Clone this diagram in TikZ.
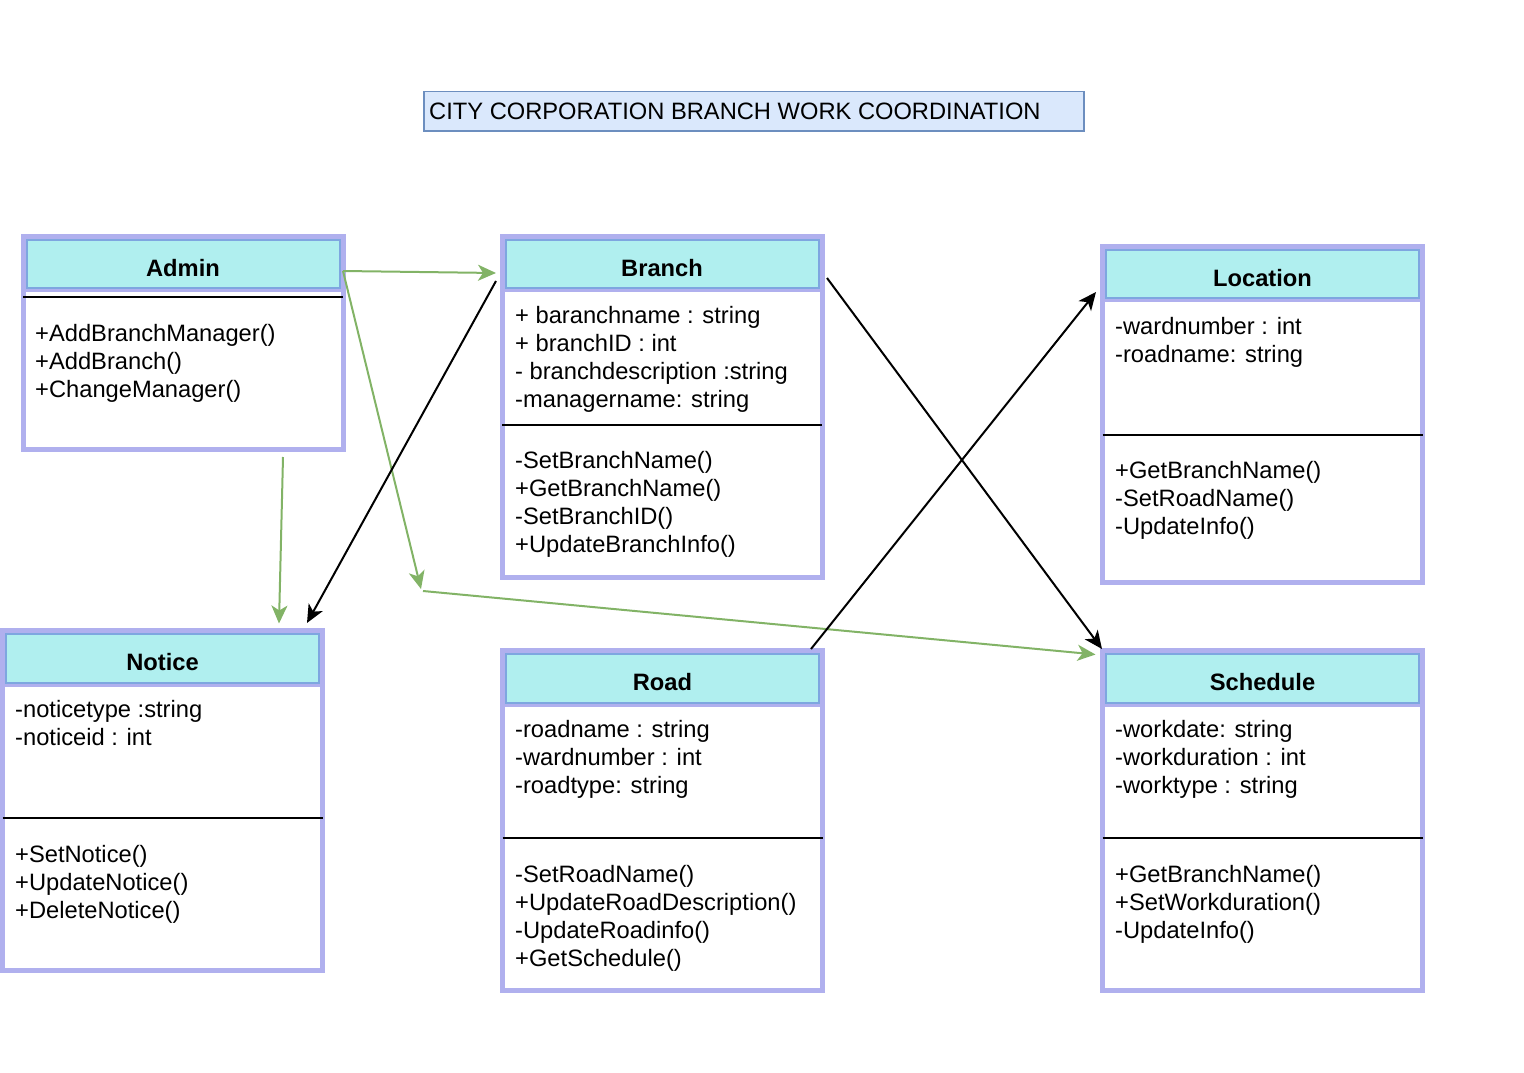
\documentclass[tikz,border=0pt]{standalone}
\usepackage{fontspec}
\setmainfont{Liberation Sans}
\usetikzlibrary{arrows.meta,calc}
\definecolor{lav}{HTML}{B0B0EE}
\definecolor{hdrfill}{HTML}{B0EFEF}
\definecolor{hdrline}{HTML}{7EA6E0}
\definecolor{grn}{HTML}{82B366}
\definecolor{tfill}{HTML}{DAE8FC}
\definecolor{tline}{HTML}{6C8EBF}
\begin{document}
\begin{tikzpicture}[x=1pt,y=-1pt,
 outerbox/.style={draw=lav, line width=5pt, fill=white, rectangle, inner sep=0pt, outer sep=0pt, minimum width=320pt, anchor=north west},
 hdrbox/.style={draw=hdrline, line width=2pt, fill=hdrfill, rectangle, inner sep=0pt, outer sep=0pt, minimum width=313pt, anchor=north west},
 hdrsep/.style={draw=lav, line width=3pt},
 compsep/.style={draw=black, line width=2pt},
 txt/.style={inner sep=0pt, anchor=base west, font=\fontsize{23.7}{28}\selectfont},
 ttl/.style={inner sep=0pt, anchor=base, font=\fontsize{23.7}{28}\selectfont\bfseries},
 garrow/.style={draw=grn, line width=2pt, -{Stealth[length=18pt,width=16pt,inset=5pt]}},
 barrow/.style={draw=black, line width=2pt, -{Stealth[length=18pt,width=16pt,inset=5pt]}},
]
\useasboundingbox (0,0) rectangle (1524,1073);

% Title
\node[draw=tline, line width=1.5pt, fill=tfill, rectangle, inner sep=0pt, minimum width=660pt, minimum height=39pt, anchor=north west] (title) at (423,91) {};
\node[txt] (titletext) at (429,119.5) {CITY CORPORATION BRANCH WORK COORDINATION};

% ---------- Admin ----------
\node[outerbox, minimum height=212.5pt] (admin) at (23,236.5) {};
\node[hdrbox, minimum height=48pt] (adminh) at (26.5,240) {};
\draw[hdrsep] (23,290.5) -- (343,290.5);
\node[ttl] (admint) at (183,276) {Admin};
\draw[compsep] (23,296.7) -- (343,296.7);
\foreach \t [count=\i] in {{+AddBranchManager()},{+AddBranch()},{+ChangeManager()}}
  \node[txt] (adminm\i) at (35,{341.7+28*(\i-1)}) {\t};

% ---------- Branch ----------
\node[outerbox, minimum height=341pt] (branch) at (502,236) {};
\node[hdrbox, minimum height=48.3pt] (branchh) at (505.5,239.5) {};
\draw[hdrsep] (502,290.8) -- (822,290.8);
\node[ttl] (brancht) at (662,276) {Branch};
\foreach \t [count=\i] in {{+ baranchname : string},{+ branchID : int},{- branchdescription :string},{-managername: string}}
  \node[txt] (brancha\i) at (515,{323.5+28*(\i-1)}) {\t};
\draw[compsep] (502,425) -- (822,425);
\foreach \t [count=\i] in {{-SetBranchName()},{+GetBranchName()},{-SetBranchID()},{+UpdateBranchInfo()}}
  \node[txt] (branchm\i) at (515,{468.5+28*(\i-1)}) {\t};

% ---------- Location ----------
\node[outerbox, minimum height=336pt] (location) at (1102.5,246.5) {};
\node[hdrbox, minimum height=47.5pt] (locationh) at (1106,250) {};
\draw[hdrsep] (1102.5,300) -- (1422.5,300);
\node[ttl] (locationt) at (1262.5,286) {Location};
\foreach \t [count=\i] in {{-wardnumber : int},{-roadname: string}}
  \node[txt] (locationa\i) at (1115,{334+28*(\i-1)}) {\t};
\draw[compsep] (1102.5,435) -- (1422.5,435);
\foreach \t [count=\i] in {{+GetBranchName()},{-SetRoadName()},{-UpdateInfo()}}
  \node[txt] (locationm\i) at (1115,{478+28*(\i-1)}) {\t};

% ---------- Notice ----------
\node[outerbox, minimum height=340pt] (notice) at (2.5,630.5) {};
\node[hdrbox, minimum height=48.5pt] (noticeh) at (6,634) {};
\draw[hdrsep] (2.5,685) -- (322.5,685);
\node[ttl] (noticet) at (162.5,670) {Notice};
\foreach \t [count=\i] in {{-noticetype :string},{-noticeid : int}}
  \node[txt] (noticea\i) at (15,{717.7+28*(\i-1)}) {\t};
\draw[compsep] (2.5,818.3) -- (322.5,818.3);
\foreach \t [count=\i] in {{+SetNotice()},{+UpdateNotice()},{+DeleteNotice()}}
  \node[txt] (noticem\i) at (15,{862.7+28*(\i-1)}) {\t};

% ---------- Road ----------
\node[outerbox, minimum height=340pt] (road) at (502.5,650.5) {};
\node[hdrbox, minimum height=48.5pt] (roadh) at (506,654) {};
\draw[hdrsep] (502.5,705) -- (822.5,705);
\node[ttl] (roadt) at (662.5,690) {Road};
\foreach \t [count=\i] in {{-roadname : string},{-wardnumber : int},{-roadtype: string}}
  \node[txt] (roada\i) at (515,{737.7+28*(\i-1)}) {\t};
\draw[compsep] (502.5,838.3) -- (822.5,838.3);
\foreach \t [count=\i] in {{-SetRoadName()},{+UpdateRoadDescription()},{-UpdateRoadinfo()},{+GetSchedule()}}
  \node[txt] (roadm\i) at (515,{882.7+28*(\i-1)}) {\t};

% ---------- Schedule ----------
\node[outerbox, minimum height=340pt] (schedule) at (1102.5,650.5) {};
\node[hdrbox, minimum height=48.5pt] (scheduleh) at (1106,654) {};
\draw[hdrsep] (1102.5,705) -- (1422.5,705);
\node[ttl] (schedulet) at (1262.5,690) {Schedule};
\foreach \t [count=\i] in {{-workdate: string},{-workduration : int},{-worktype : string}}
  \node[txt] (schedulea\i) at (1115,{737.7+28*(\i-1)}) {\t};
\draw[compsep] (1102.5,838.3) -- (1422.5,838.3);
\foreach \t [count=\i] in {{+GetBranchName()},{+SetWorkduration()},{-UpdateInfo()}}
  \node[txt] (schedulem\i) at (1115,{882.7+28*(\i-1)}) {\t};

% ---------- connector end points ----------
\coordinate (a1) at ($(admin.north east)+(0,34.5)$);
\coordinate (b1) at ($(branch.north west)+(-6,37)$);
\coordinate (bend) at (422,590);
\coordinate (s1) at ($(schedule.north west)+(-7,4)$);
\coordinate (a2) at ($(admin.south east)+(-60,8)$);
\coordinate (n1) at ($(notice.north west)+(276.5,-7)$);
\coordinate (b2) at ($(branch.north west)+(-6,45)$);
\coordinate (n2) at ($(notice.north east)+(-15.5,-7.5)$);
\coordinate (b3) at ($(branch.north east)+(5,42)$);
\coordinate (s2) at ($(schedule.north west)+(-0.5,-1.5)$);
\coordinate (r1) at ($(road.north east)+(-11.5,-1.5)$);
\coordinate (l1) at ($(location.north west)+(-6.5,45.5)$);

% ---------- connectors ----------
\draw[garrow] (a1) -- (b1);
\draw[garrow] (a1) -- ($(bend)+(-1,-1)$);
\draw[garrow] ($(bend)+(1,1)$) -- (s1);
\draw[garrow] (a2) -- (n1);
\draw[barrow] (b2) -- (n2);
\draw[barrow] (b3) -- (s2);
\draw[barrow] (r1) -- (l1);
\end{tikzpicture}
\end{document}
